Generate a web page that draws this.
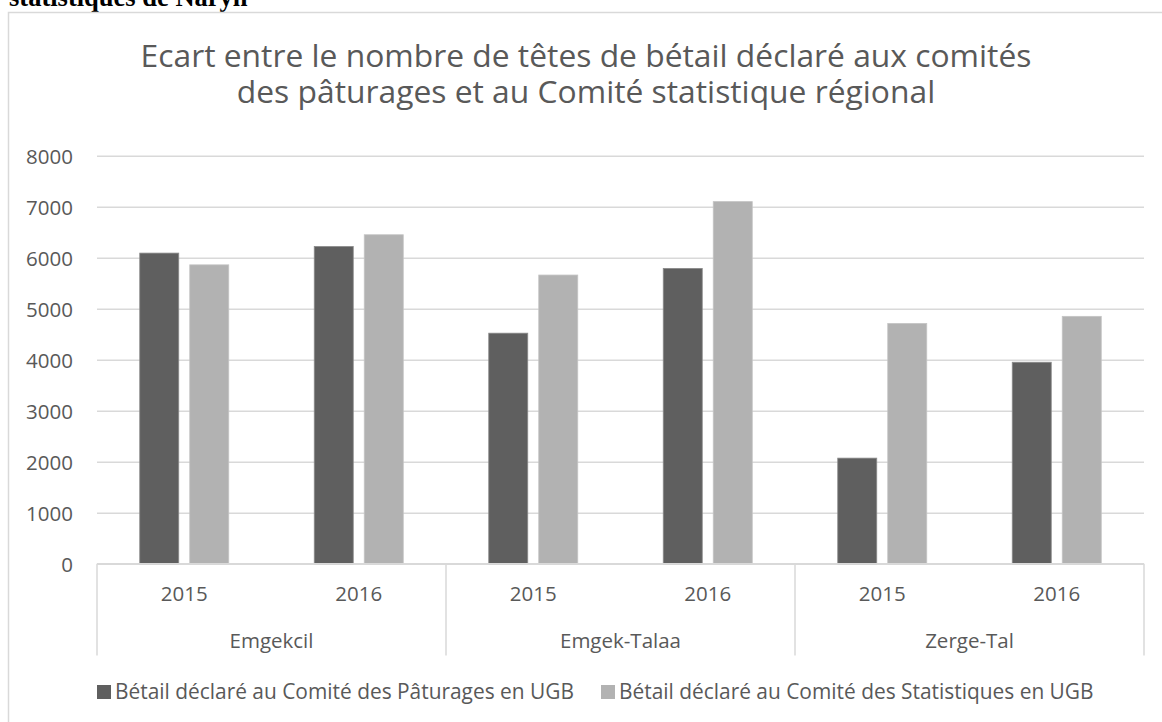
<!DOCTYPE html>
<html>
<head>
<meta charset="utf-8">
<script src="https://cdn.jsdelivr.net/npm/d3@7"></script>
<style>
  body { margin: 0; background: #ffffff; }
  svg { display: block; }
</style>
</head>
<body>
<div id="chart"></div>
<script>
// data
const groups = ['Emgekcil', 'Emgek-Talaa', 'Zerge-Tal'];
const years = ['2015', '2016'];
const seriesNames = [
  'Bétail déclaré au Comité des Pâturages en UGB',
  'Bétail déclaré au Comité des Statistiques en UGB'
];
// one value per group/year, in order groups x years
const paturages = [6090, 6220, 4520, 5790, 2070, 3950];
const statistiques = [5860, 6450, 5660, 7100, 4710, 4850];
const yTicks = [0, 1000, 2000, 3000, 4000, 5000, 6000, 7000, 8000];
const titleLines = [
  'Ecart entre le nombre de têtes de bétail déclaré aux comités',
  'des pâturages et au Comité statistique régional'
];

const colors = ['#5f5f5f', '#b2b2b2'];
const textColor = '#595959';
const gridColor = '#d9d9d9';
const font = '"Open Sans", "DejaVu Sans", sans-serif';

const width = 1162;
const height = 722;
const plot = { left: 97, right: 1144, top: 155.7, bottom: 563.7 };

const svg = d3
  .select('#chart')
  .append('svg')
  .attr('width', width)
  .attr('height', height);

// heading of the page, cut at the top edge like in the source
svg
  .append('text')
  .attr('x', 9)
  .attr('y', 6)
  .style('font-family', '"Liberation Serif", "Times New Roman", serif')
  .style('font-weight', 'bold')
  .style('font-size', '26.5px')
  .attr('fill', '#000000')
  .text('statistiques de Naryn');

// chart area border (runs off the right and bottom)
svg
  .append('rect')
  .attr('x', 8.5)
  .attr('y', 12.5)
  .attr('width', 1200)
  .attr('height', 800)
  .attr('fill', '#ffffff')
  .attr('stroke', gridColor)
  .attr('stroke-width', 1.5);

// title
svg
  .append('g')
  .selectAll('text')
  .data(titleLines)
  .enter()
  .append('text')
  .attr('x', 586)
  .attr('y', (d, i) => 66.7 + i * 36.5)
  .attr('text-anchor', 'middle')
  .style('font-family', font)
  .style('font-size', '31.8px')
  .attr('fill', textColor)
  .text((d) => d);

// rows: one per group/year
const rows = [];
groups.forEach((g, gi) => {
  years.forEach((yr, yi) => {
    const k = gi * years.length + yi;
    rows.push({
      group: g,
      year: yr,
      values: [paturages[k], statistiques[k]]
    });
  });
});

// scales
const y = d3
  .scaleLinear()
  .domain([0, 8000])
  .range([plot.bottom, plot.top]);

const xGroup = d3
  .scaleBand()
  .domain(groups)
  .range([plot.left, plot.right]);

const xYear = d3
  .scaleBand()
  .domain(years)
  .range([0, xGroup.bandwidth()]);

const xSeries = d3
  .scaleBand()
  .domain(d3.range(seriesNames.length))
  .range([0, xYear.bandwidth()])
  .paddingInner(0.22)
  .paddingOuter(0.855);

// gridlines + y labels
const yAxis = d3
  .axisLeft(y)
  .tickValues(yTicks)
  .tickSize(-(plot.right - plot.left))
  .tickPadding(24)
  .tickFormat(d3.format('d'));

const yG = svg
  .append('g')
  .attr('transform', 'translate(' + plot.left + ',0)')
  .call(yAxis);
yG.select('.domain').remove();
yG.selectAll('.tick line')
  .attr('stroke', gridColor)
  .attr('stroke-width', 1.5);
yG.selectAll('.tick text')
  .style('font-family', font)
  .style('font-size', '20.5px')
  .attr('fill', textColor)
  .attr('dy', '0.36em');

// bars
const rowG = svg
  .selectAll('.row')
  .data(rows)
  .enter()
  .append('g')
  .attr('class', 'row')
  .attr('transform', (d) =>
    'translate(' + (xGroup(d.group) + xYear(d.year)) + ',0)'
  );

rowG
  .selectAll('rect')
  .data((d) => d.values)
  .enter()
  .append('rect')
  .attr('x', (d, i) => xSeries(i))
  .attr('y', (d) => y(d))
  .attr('width', xSeries.bandwidth())
  .attr('height', (d) => y(0) - y(d))
  .attr('fill', (d, i) => colors[i])
  .attr('stroke', (d, i) => (i === 0 ? '#8a8a8a' : '#c4c4c4'))
  .attr('stroke-width', 0.8);

// category axis: baseline and group separators
const sepBottom = 655.5;
svg
  .append('line')
  .attr('x1', plot.left)
  .attr('x2', plot.right)
  .attr('y1', y(0))
  .attr('y2', y(0))
  .attr('stroke', gridColor)
  .attr('stroke-width', 1.5);

const edges = groups.map((g) => xGroup(g)).concat([plot.right]);
svg
  .selectAll('.sep')
  .data(edges)
  .enter()
  .append('line')
  .attr('class', 'sep')
  .attr('x1', (d) => d)
  .attr('x2', (d) => d)
  .attr('y1', y(0))
  .attr('y2', sepBottom)
  .attr('stroke', gridColor)
  .attr('stroke-width', 1.5);

// year labels
svg
  .selectAll('.yearLabel')
  .data(rows)
  .enter()
  .append('text')
  .attr('class', 'yearLabel')
  .attr('x', (d) => xGroup(d.group) + xYear(d.year) + xYear.bandwidth() / 2)
  .attr('y', 601)
  .attr('text-anchor', 'middle')
  .style('font-family', font)
  .style('font-size', '20.5px')
  .attr('fill', textColor)
  .text((d) => d.year);

// group labels
svg
  .selectAll('.groupLabel')
  .data(groups)
  .enter()
  .append('text')
  .attr('class', 'groupLabel')
  .attr('x', (d) => xGroup(d) + xGroup.bandwidth() / 2)
  .attr('y', 648)
  .attr('text-anchor', 'middle')
  .style('font-family', font)
  .style('font-size', '20.5px')
  .attr('fill', textColor)
  .text((d) => d);

// legend
const legendX = [97, 601];
const legend = svg
  .selectAll('.legendItem')
  .data(seriesNames)
  .enter()
  .append('g')
  .attr('class', 'legendItem')
  .attr('transform', (d, i) => 'translate(' + legendX[i] + ',685)');

legend
  .append('rect')
  .attr('width', 14)
  .attr('height', 14)
  .attr('fill', (d, i) => colors[i]);

legend
  .append('text')
  .attr('x', 18)
  .attr('y', 13.5)
  .style('font-family', font)
  .style('font-size', '20.9px')
  .attr('fill', textColor)
  .text((d) => d);
</script>
</body>
</html>
